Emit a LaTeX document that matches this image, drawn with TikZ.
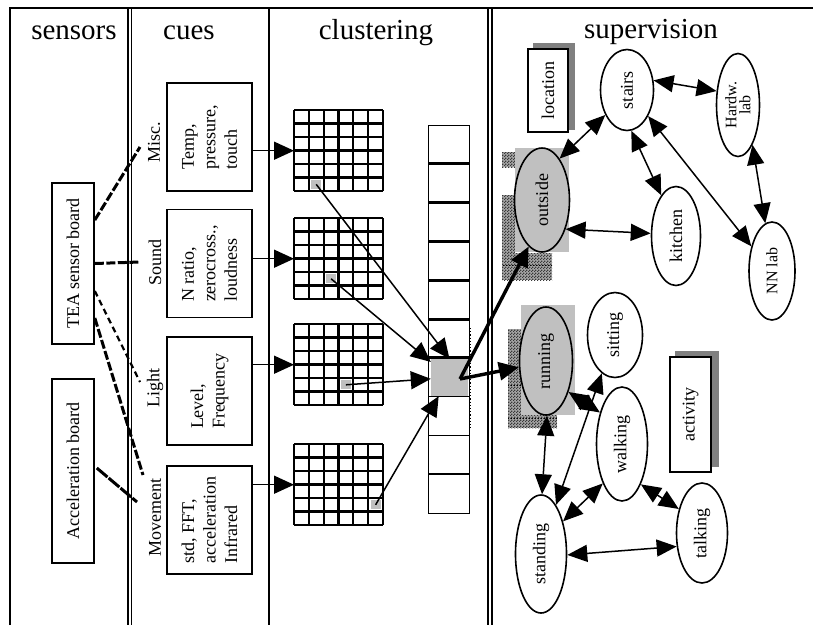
\documentclass[tikz,border=0pt]{standalone}
\usepackage{fontspec}
\setmainfont{Liberation Serif}
\usetikzlibrary{arrows.meta,calc,patterns,patterns.meta,shapes.geometric,positioning}

\definecolor{silver}{RGB}{192,192,192}
\newcommand\lblsize{\fontsize{18}{21.5}\selectfont}
\newcommand\lbsmall{\fontsize{16}{14}\selectfont}
\newcommand\hdsize{\fontsize{29}{33}\selectfont}

% small checker used for the dithered selection marks
\tikzdeclarepattern{
  name=finecheck,
  type=uncolored,
  bottom left={(0pt,0pt)},
  top right={(3pt,3pt)},
  tile size={(3pt,3pt)},
  code={
    \fill (0pt,0pt) rectangle (1.5pt,1.5pt);
    \fill (1.5pt,1.5pt) rectangle (3pt,3pt);
  }
}

\tikzset{
  divider/.style={line width=1.6pt},
  colhead/.style={font=\hdsize, anchor=base, inner sep=0pt},
  board/.style={draw, line width=1.6pt, rotate=90, minimum height=42pt, font=\lblsize, inner sep=0pt},
  cuebox/.style={draw, line width=1.6pt, rotate=90, minimum width=108pt, minimum height=85pt, align=left, font=\lblsize, inner sep=0pt},
  cuename/.style={rotate=90, font=\lblsize, inner sep=0pt},
  wire/.style={line width=3pt, dash pattern=on 9pt off 2.5pt},
  feed/.style={line width=1.5pt, -{Triangle[length=20pt,width=18pt]}},
  field/.style={minimum width=89pt, minimum height=81pt, inner sep=0pt},
  hline/.style={line width=2.8pt},
  vline/.style={line width=2.3pt},
  cell/.style={fill=silver, minimum width=10pt, minimum height=9pt, inner sep=0pt},
  ctxnode/.style 2 args={ellipse, draw, fill=white, line width=1.6pt, rotate=90, inner sep=0pt,
    minimum width=#1, minimum height=#2, font=\lblsize, align=center},
  link/.style={line width=1.5pt, {Triangle[length=20pt,width=17pt]}-{Triangle[length=20pt,width=17pt]}},
  boost/.style={line width=3.4pt, -{Triangle[length=20pt,width=18pt]}},
  dither/.style={fill=gray!70, postaction={pattern=finecheck, pattern color=gray!45!black}},
  shadowbox/.style={fill=gray},
  tagbox/.style={draw, fill=white, line width=1.6pt, rotate=90, font=\lblsize, inner sep=0pt},
}

\begin{document}
\begin{tikzpicture}[x=1pt, y=-1pt]
\useasboundingbox (0,0) rectangle (813,625);

% column frame
\draw[divider] (10,625) -- (10,8) -- (813,8);
\draw[divider] (128,8) -- (128,625);
\draw[divider] (131.5,8) -- (131.5,625);
\draw[divider] (269,8) -- (269,625);
\draw[divider] (488,8) -- (488,625);
\draw[divider] (492,8) -- (492,625);

\node[colhead] (hsens) at (74,39) {sensors};
\node[colhead] (hcues) at (189,39) {cues};
\node[colhead] (hclus) at (376,39) {clustering};
\node[colhead] (hsup) at (651,38) {supervision};

% sensors
\node[board, minimum width=161pt] (tea) at (73,263.5) {TEA sensor board};
\node[board, minimum width=184pt] (acc) at (73,471) {Acceleration board};

% cues
\node[cuename] (misc) at (154,142) {Misc.};
\node[cuename] (sound) at (155,262) {Sound};
\node[cuename] (light) at (155,388) {Light};
\node[cuename] (move) at (155,517) {Movement};

\node[cuebox] (temp) at (209.5,137) {Temp,\\pressure,\\touch};
\node[cuebox] (noise) at (209.5,263.5) {N ratio,\\zerocross.,\\loudness};
\node[cuebox] (level) at (209.5,391) {Level,\\Frequency};
\node[cuebox] (motion) at (209.5,520) {std, FFT,\\acceleration\\Infrared};

% board to cue wiring
\draw[wire] ($(tea.south)+(0,-43.5)$) -- ($(misc)+(-14,5)$);
\draw[wire] (tea.south) -- ($(sound)+(-15,0)$);
\draw[wire, line width=2.2pt, dash pattern=on 6pt off 4pt] ($(tea.south)+(0,27.5)$) -- ($(light)+(-15,-6)$);
\draw[wire] ($(tea.south)+(0,54.5)$) -- ($(move)+(-12,-42)$);
\draw[wire, dash pattern=on 14pt off 1.5pt] ($(acc.south)+(2,-3)$) -- ($(move)+(-18,-15)$);

% clustering maps
\foreach \gy [count=\i] in {110,218,324,444}
  \node[field, anchor=north west] (g\i) at (294,\gy) {};

\node[cell] (c1) at (316.2,184.3) {};
\node[cell] (c2) at (331.1,278.8) {};
\node[cell] (c3) at (345.9,384.8) {};
\node[cell] (c4) at (375.6,504.8) {};

\foreach \i in {1,...,4}
  \foreach \k in {0,...,6} {
    \draw[vline] ($(g\i.north west)+(\k*14.833,0)$) -- ++(0,81);
    \draw[hline] ($(g\i.north west)+(0,\k*13.5)$) -- ++(89,0);
  }

\foreach \b/\i in {temp/1,noise/2,level/3,motion/4}
  \draw[feed] (g\i.west -| \b.south) -- (g\i.west);

% output vector
\node[cell, minimum width=37pt, minimum height=37pt] (hit) at (449.5,377.5) {};
\node[draw, line width=1.4pt, minimum width=41pt, minimum height=388pt, inner sep=0pt, anchor=north west] (vec) at (428,125) {};
\foreach \k in {1,...,6}
  \draw[line width=3pt] ($(vec.north west)+(0,\k*38.8)$) -- ++(41,0);
\foreach \k in {7,8,9}
  \draw[line width=1.6pt] ($(vec.north west)+(0,\k*38.8)$) -- ++(41,0);
\draw[dotted, line width=1.2pt] (470,328) -- (470,428);

\draw[feed] (c1.center) -- (hit.north);
\draw[feed] (c2.center) -- (hit);
\draw[feed] (c3.center) -- (hit);
\draw[feed] (c4.center) -- (hit);

% supervision
\fill[dither] (502,152) rectangle (515,167);
\fill[dither] (502,195) rectangle (515,280);
\fill[dither] (515,253) rectangle (552,280);
\draw[dotted, line width=1pt] (503,265) -- (552,265);
\fill[silver] (515,148) rectangle (569,252);
\fill[dither] (508,329) rectangle (521,428);
\fill[dither] (521,415) rectangle (557,428);
\draw[dotted, line width=1pt] (508,385) -- (521,385);
\draw[dotted, line width=1pt] (508,418) -- (557,418);
\fill[silver] (521,305) rectangle (575,415);

\fill[shadowbox] (533,43) rectangle (575,130);
\node[tagbox, minimum width=83pt, minimum height=40pt] (loc) at (548,90.5) {location};
\fill[shadowbox] (675,351) rectangle (719,467);
\node[tagbox, minimum width=115pt, minimum height=41pt] (act) at (690.5,414.5) {activity};

\node[ctxnode={81pt}{53pt}] (stairs) at (627,90) {stairs};
\node[ctxnode={103pt}{43pt}, font=\lbsmall] (hardw) at (738,105) {Hardw.\\lab};
\node[ctxnode={104pt}{55pt}, fill=silver] (outside) at (542,200) {outside};
\node[ctxnode={99pt}{49pt}] (kitchen) at (676,236) {kitchen};
\node[ctxnode={98pt}{46pt}, font=\lbsmall] (nnlab) at (772,271) {NN lab};
\node[ctxnode={108pt}{53pt}, fill=silver] (running) at (546,361) {running};
\node[ctxnode={85pt}{55pt}] (sitting) at (615,335) {sitting};
\node[ctxnode={114pt}{51pt}] (walking) at (622,444) {walking};
\node[ctxnode={118pt}{51pt}] (standing) at (541,554) {standing};
\node[ctxnode={100pt}{51pt}] (talking) at (702,533) {talking};

\draw[link] (stairs.290) -- (hardw.57);
\draw[link] (stairs.139) -- (outside.337);
\draw[link] (stairs.186) -- (kitchen.20);
\draw[link] (stairs.219) -- (nnlab.40);
\draw[link] (hardw.200) -- (nnlab.8);
\draw[link] (outside.219) -- (kitchen.84);

\draw[link] (running.181) -- (standing.359);
\draw[link] (sitting.161) -- (standing.343);
\draw[link] (running.216) -- (walking.35);
\draw[link] (walking.154) -- (standing.326);
\draw[link] (walking.205) -- (talking.44);
\draw[link] (standing.268) -- (talking.118);

% winning cell drives the labels
\coordinate (hitout) at (460,379);
\draw[boost] (hitout) -- (running.103);
\draw[boost] (hitout) -- (outside.164);
\end{tikzpicture}
\end{document}
